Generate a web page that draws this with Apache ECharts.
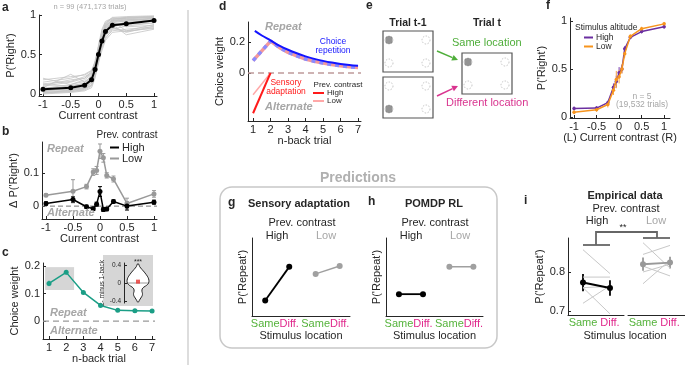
<!DOCTYPE html>
<html>
<head>
<meta charset="utf-8">
<script src="https://cdn.jsdelivr.net/npm/echarts@6/dist/echarts.min.js"></script>
<style>html,body{margin:0;padding:0;background:#fff}#chart{width:685px;height:370px}</style>
</head>
<body>
<div id="chart"></div>
<script>
// ---------- data ----------
const contrasts = [-1, -0.5, -0.25, -0.125, -0.0625, 0, 0.0625, 0.125, 0.25, 0.5, 1];

// a: psychometric curves
const aMean = [0.06, 0.08, 0.11, 0.18, 0.31, 0.50, 0.67, 0.79, 0.87, 0.89, 0.93];
const aSubjects = [
  [0.02, 0.03, 0.06, 0.12, 0.28, 0.50, 0.72, 0.86, 0.94, 0.97, 0.98],
  [0.10, 0.15, 0.20, 0.28, 0.38, 0.52, 0.66, 0.78, 0.86, 0.88, 0.90],
  [0.05, 0.08, 0.10, 0.20, 0.35, 0.55, 0.70, 0.82, 0.90, 0.93, 0.95],
  [0.15, 0.20, 0.25, 0.30, 0.40, 0.50, 0.60, 0.72, 0.80, 0.82, 0.85],
  [0.00, 0.02, 0.04, 0.08, 0.20, 0.42, 0.75, 0.90, 0.97, 0.98, 0.99],
  [0.08, 0.25, 0.15, 0.22, 0.30, 0.45, 0.62, 0.80, 0.88, 0.75, 0.82],
  [0.20, 0.12, 0.18, 0.25, 0.33, 0.47, 0.60, 0.75, 0.92, 0.80, 0.88],
  [0.03, 0.05, 0.08, 0.15, 0.25, 0.60, 0.80, 0.90, 0.95, 0.96, 0.97],
  [0.06, 0.10, 0.12, 0.18, 0.30, 0.48, 0.64, 0.76, 0.84, 0.92, 0.96],
  [0.12, 0.10, 0.14, 0.24, 0.40, 0.58, 0.74, 0.86, 0.93, 0.95, 0.92],
  [0.01, 0.03, 0.05, 0.10, 0.22, 0.38, 0.68, 0.88, 0.96, 0.97, 0.98],
  [0.09, 0.06, 0.09, 0.16, 0.34, 0.52, 0.70, 0.83, 0.89, 0.90, 0.94],
  [0.04, 0.07, 0.11, 0.19, 0.29, 0.44, 0.58, 0.70, 0.82, 0.86, 0.90],
  [0.11, 0.18, 0.20, 0.26, 0.36, 0.56, 0.76, 0.84, 0.90, 0.85, 0.87],
  [0.02, 0.04, 0.07, 0.14, 0.32, 0.62, 0.82, 0.92, 0.96, 0.95, 0.97],
  [0.07, 0.12, 0.16, 0.22, 0.27, 0.40, 0.55, 0.68, 0.78, 0.80, 0.83],
  [0.03, 0.09, 0.13, 0.21, 0.37, 0.53, 0.69, 0.81, 0.91, 0.94, 0.96],
  [0.13, 0.16, 0.22, 0.27, 0.42, 0.60, 0.72, 0.80, 0.85, 0.78, 0.86],
  [0.05, 0.06, 0.09, 0.17, 0.26, 0.46, 0.66, 0.85, 0.93, 0.96, 0.98],
  [0.01, 0.05, 0.07, 0.11, 0.24, 0.49, 0.71, 0.84, 0.92, 0.94, 0.95],
  [0.18, 0.22, 0.24, 0.29, 0.39, 0.51, 0.63, 0.74, 0.83, 0.79, 0.84],
  [0.04, 0.11, 0.12, 0.23, 0.31, 0.47, 0.73, 0.87, 0.94, 0.91, 0.93]
];

// b: history effect split by previous contrast
const bHigh = [0.008, 0.020, -0.002, -0.008, 0.006, 0.044, -0.010, -0.009, 0.014, 0.000, 0.012];
const bHighErr = [0.005, 0.008, 0.005, 0.005, 0.006, 0.015, 0.006, 0.005, 0.005, 0.012, 0.006];
const bLow = [0.033, 0.045, 0.059, 0.103, 0.108, 0.166, 0.146, 0.093, 0.082, 0.008, 0.037];
const bLowErr = [0.004, 0.035, 0.007, 0.010, 0.012, 0.022, 0.013, 0.008, 0.009, 0.016, 0.010];

// c: choice weights per n-back trial
const nBack = [1, 2, 3, 4, 5, 6, 7];
const cWeight = [0.137, 0.177, 0.104, 0.057, 0.039, 0.038, 0.037];
const cErr = [0.010, 0.008, 0.007, 0.004, 0.003, 0.003, 0.003];
// c inset: violin of 2- minus 1-back
const violinY = [0.42, 0.36, 0.30, 0.24, 0.18, 0.12, 0.06, 0.00, -0.05, -0.09, -0.13, -0.18, -0.23, -0.28, -0.33, -0.38, -0.42];
const violinW = [0.04, 0.12, 0.28, 0.45, 0.60, 0.72, 0.78, 0.76, 0.62, 0.42, 0.30, 0.28, 0.32, 0.30, 0.20, 0.10, 0.03];
const violinMean = 0.03;

// d: model predictions
const dRepX = [1.1, 1.5, 2, 2.5, 3, 3.5, 4, 4.5, 5, 5.5, 6, 6.5, 7];
const dRep = [0.272, 0.242, 0.21, 0.177, 0.15, 0.127, 0.107, 0.091, 0.078, 0.067, 0.058, 0.051, 0.046];
const dSumX = [1, 2, 2.5, 3, 3.5, 4, 4.5, 5, 5.5, 6, 6.5, 7];
const dSum = [0.08, 0.206, 0.165, 0.133, 0.11, 0.09, 0.076, 0.064, 0.054, 0.046, 0.04, 0.036];
const dAdaptX = [1, 2];
const dAdaptHigh = [-0.26, 0];
const dAdaptLow = [-0.14, 0];

// f: psychometric curves by stimulus altitude
const fHigh = [0.09, 0.093, 0.15, 0.31, 0.37, 0.46, 0.50, 0.71, 0.83, 0.89, 0.94];
const fHighErr = [0.02, 0.02, 0.02, 0.04, 0.06, 0.06, 0.04, 0.03, 0.02, 0.02, 0.02];
const fLow = [0.05, 0.076, 0.13, 0.28, 0.39, 0.42, 0.50, 0.66, 0.84, 0.92, 0.97];
const fLowErr = [0.02, 0.02, 0.03, 0.05, 0.09, 0.07, 0.05, 0.04, 0.02, 0.02, 0.02];

// g, h: predictions (arbitrary units)
const locHighX = [1, 2];
const locLowX = [3.1, 4.1];
const gHigh = [0.2, 0.63];
const gLow = [0.54, 0.64];
const hHigh = [0.28, 0.28];
const hLow = [0.63, 0.63];

// i: empirical data, one pair per mouse
const iX = [1, 2];
const iHighSubj = [[0.857, 0.796], [0.787, 0.787], [0.760, 0.763], [0.720, 0.765], [0.760, 0.693]];
const iLowSubj = [[0.875, 0.810], [0.845, 0.868], [0.815, 0.790], [0.770, 0.830], [0.800, 0.820]];
const iHighMean = [0.773, 0.759];
const iHighErr = [0.022, 0.02];
const iLowMean = [0.82, 0.824];
const iLowErr = [0.017, 0.015];

// ---------- style ----------
const FONT = '"Liberation Sans", Arial, sans-serif';
const AX = '#262626';
const GRAYTXT = '#a6a6a6';
const GREEN = '#55b33b';
const MAGENTA = '#e0288c';
const TEAL = '#1b9e86';

const xy = (xs, ys) => xs.map((x, i) => [x, ys[i]]);

function axis(gi, min, max, ticks, extra) {
  const fs = (extra && extra.fs) || 11;
  const a = {
    type: 'value', gridIndex: gi, min: min, max: max,
    axisLine: { show: true, onZero: false, lineStyle: { color: AX, width: 1 } },
    axisTick: { show: ticks.length > 0, inside: true, length: 3, customValues: ticks, lineStyle: { color: AX } },
    axisLabel: {
      show: ticks.length > 0, customValues: ticks, color: AX, fontSize: fs, fontFamily: FONT, margin: 3,
      showMinLabel: true, showMaxLabel: true, hideOverlap: false
    },
    splitLine: { show: false },
    nameLocation: 'middle',
    nameTextStyle: { color: AX, fontSize: (extra && extra.nfs) || 11, fontFamily: FONT }
  };
  if (extra) { for (const k in extra) if (k !== 'fs' && k !== 'nfs') a[k] = extra[k]; }
  return a;
}
function hidden(gi, min, max) {
  return { type: 'value', gridIndex: gi, min: min, max: max, show: false, splitLine: { show: false } };
}
const locLabel = {
  formatter: v => (Math.abs(v - 1) < 0.01 || Math.abs(v - 3.1) < 0.01) ? '{s|Same}' : '{d|Diff.}',
  rich: { s: { color: GREEN, fontSize: 11, fontFamily: FONT }, d: { color: MAGENTA, fontSize: 11, fontFamily: FONT } }
};
function locAxis(gi, min, max, ticks, name) {
  const a = axis(gi, min, max, ticks, name ? { name: name, nameGap: 14 } : {});
  Object.assign(a.axisLabel, locLabel, { margin: 2 });
  a.axisTick.show = false;
  return a;
}

function line(name, gi, data, color, o) {
  o = o || {};
  return {
    type: 'line', name: name, xAxisIndex: gi, yAxisIndex: gi, data: data, silent: true,
    symbol: o.symbol || 'none', symbolSize: o.size || 5, showSymbol: !!o.symbol,
    smooth: o.smooth || false, z: o.z || 3, clip: false,
    lineStyle: { color: color, width: o.width || 1.5, type: o.dash || 'solid', cap: 'butt' },
    itemStyle: { color: o.fill || color, borderWidth: 0 }
  };
}
function errBars(gi, xs, ys, es, color, w, cap) {
  return {
    type: 'custom', xAxisIndex: gi, yAxisIndex: gi, silent: true, z: 2,
    data: xs.map((x, i) => [x, ys[i] - es[i], ys[i] + es[i]]),
    renderItem: (p, api) => {
      const lo = api.coord([api.value(0), api.value(1)]);
      const hi = api.coord([api.value(0), api.value(2)]);
      const st = { stroke: color, lineWidth: w };
      const kids = [{ type: 'line', shape: { x1: lo[0], y1: lo[1], x2: hi[0], y2: hi[1] }, style: st }];
      if (cap) {
        kids.push({ type: 'line', shape: { x1: lo[0] - cap, y1: lo[1], x2: lo[0] + cap, y2: lo[1] }, style: st });
        kids.push({ type: 'line', shape: { x1: hi[0] - cap, y1: hi[1], x2: hi[0] + cap, y2: hi[1] }, style: st });
      }
      return { type: 'group', children: kids };
    }
  };
}

// ---------- grids ----------
const grids = [
  { left: 39, top: 15, width: 118, height: 81 },   // 0 a
  { left: 42, top: 142, width: 115, height: 77 },  // 1 b
  { left: 43, top: 263, width: 112, height: 76 },  // 2 c
  { left: 103, top: 255, width: 50, height: 51, show: true, backgroundColor: '#d6d6d6', borderWidth: 0 }, // 3 inset box
  { left: 124, top: 263, width: 28, height: 40 },  // 4 inset
  { left: 248, top: 22, width: 113, height: 99 },  // 5 d
  { left: 570, top: 18, width: 100, height: 100 }, // 6 f
  { left: 252, top: 238, width: 98, height: 78 },  // 7 g
  { left: 386, top: 238, width: 97, height: 78 },  // 8 h
  { left: 568, top: 238, width: 56, height: 77 },  // 9 i high
  { left: 628, top: 238, width: 57, height: 77 }   // 10 i low
];

const cTicks = [-1, -0.5, 0, 0.5, 1];
const xAxes = [
  axis(0, -1.072, 1.054, cTicks, { name: 'Current contrast', nameGap: 10 }),
  axis(1, -1.074, 1.056, cTicks, { name: 'Current contrast', nameGap: 12 }),
  axis(2, 0.65, 7.17, nBack, { name: 'n-back trial', nameGap: 12 }),
  hidden(3, 0, 1),
  hidden(4, -1, 1),
  axis(5, 0.71, 7.17, nBack, { name: 'n-back trial', nameGap: 10 }),
  axis(6, -1.09, 1.13, cTicks, { name: '(L) Current contrast (R)', nameGap: 13 }),
  locAxis(7, 0.45, 4.53, [1, 2, 3.1, 4.1], 'Stimulus location'),
  locAxis(8, 0.46, 4.5, [1, 2, 3.1, 4.1], 'Stimulus location'),
  locAxis(9, 0.444, 2.52, iX),
  locAxis(10, 0.444, 2.555, iX)
];
const yAxes = [
  axis(0, -0.025, 1, [0, 0.5, 1], { name: "P('Right')", nameGap: 16 }),
  axis(1, -0.039, 0.194, [0, 0.1], { name: "Δ P('Right')", nameGap: 19 }),
  axis(2, -0.065, 0.211, [0, 0.1, 0.2], { name: 'Choice weight', nameGap: 20 }),
  hidden(3, 0, 1),
  axis(4, -0.44, 0.44, [-0.4, 0, 0.4], { fs: 6.5, nfs: 6.5, name: '2- minus 1-back', nameGap: 12 }),
  axis(5, -0.31, 0.329, [0, 0.2], { name: 'Choice weight', nameGap: 15 }),
  axis(6, -0.01, 1.031, [0, 0.5, 1], { name: "P('Right')", nameGap: 11 }),
  axis(7, 0, 1, [], { name: "P('Repeat')", nameGap: 4 }),
  axis(8, 0, 1, [], { name: "P('Repeat')", nameGap: 4 }),
  axis(9, 0.69, 0.887, [0.7, 0.8], { name: "P('Repeat')", nameGap: 20 }),
  hidden(10, 0.69, 0.887)
];

// ---------- series ----------
const series = [];
// a
aSubjects.forEach((s, k) => series.push(line('a' + k, 0, xy(contrasts, s), '#c4c4c4', { width: 0.8, z: 2 })));
series.push(line('aMean', 0, xy(contrasts, aMean), '#000', { symbol: 'circle', size: 5, width: 2, z: 5 }));
// b
series.push(line('zb', 1, [[-1.074, 0], [1.056, 0]], '#777', { width: 1, dash: [5, 3], z: 1 }));
series.push(errBars(1, contrasts, bLow, bLowErr, '#999', 1, 2));
series.push(line('Low_b', 1, xy(contrasts, bLow), '#999', { symbol: 'circle', size: 5, width: 1.5 }));
series.push(errBars(1, contrasts, bHigh, bHighErr, '#000', 1, 2));
series.push(line('High_b', 1, xy(contrasts, bHigh), '#000', { symbol: 'circle', size: 5, width: 1.5, z: 4 }));
// c
series.push(line('zc', 2, [[0.65, 0], [7.17, 0]], '#999', { width: 1.2, dash: [6, 4], z: 1 }));
series.push(errBars(2, nBack, cWeight, cErr, TEAL, 1, 0));
const cSeries = line('cW', 2, xy(nBack, cWeight), TEAL, { symbol: 'circle', size: 5, width: 1.5 });
cSeries.markArea = { silent: true, itemStyle: { color: '#d6d6d6' }, data: [[{ xAxis: 0.77, yAxis: 0.196 }, { xAxis: 2.46, yAxis: 0.113 }]] };
series.push(cSeries);
// c inset violin
series.push({
  type: 'custom', xAxisIndex: 4, yAxisIndex: 4, silent: true, z: 3, data: [[0]],
  renderItem: (p, api) => {
    const right = violinY.map((y, i) => api.coord([violinW[i], y]));
    const left = violinY.map((y, i) => api.coord([-violinW[i], y])).reverse();
    return { type: 'polygon', shape: { points: right.concat(left), smooth: 0.3 }, style: { fill: '#fff', stroke: AX, lineWidth: 1 } };
  }
});
series.push(line('vmed', 4, [[-0.7, 0], [0.7, 0]], '#9a9a9a', { width: 1, z: 4 }));
series.push({ type: 'scatter', xAxisIndex: 4, yAxisIndex: 4, data: [[0, violinMean]], symbol: 'rect', symbolSize: 4, itemStyle: { color: '#e8322e' }, z: 5, silent: true });
// d
series.push(line('zd', 5, [[0.71, 0], [7.17, 0]], '#bf9a9a', { width: 1.5, dash: [6, 4], z: 1 }));
series.push(line('sumR', 5, xy(dSumX, dSum), '#f49a9a', { width: 3.5, z: 3 }));
series.push(line('sumB', 5, xy(dSumX, dSum), '#8a8aff', { width: 3.5, dash: [4, 4], z: 4 }));
series.push(line('rep', 5, xy(dRepX, dRep), '#1414ff', { width: 2, smooth: 0.4, z: 5 }));
series.push(line('Low_d', 5, xy(dAdaptX, dAdaptLow), '#ffa8a8', { width: 1.5, z: 3 }));
series.push(line('High_d', 5, xy(dAdaptX, dAdaptHigh), '#ff1a1a', { width: 2, z: 4 }));
// f
series.push(errBars(6, contrasts, fHigh, fHighErr, '#7a3fb0', 1, 0));
series.push(line('High_f', 6, xy(contrasts, fHigh), '#6b2fa0', { symbol: 'circle', size: 3.5, width: 1.5 }));
series.push(errBars(6, contrasts, fLow, fLowErr, '#f7a040', 1, 0));
series.push(line('Low_f', 6, xy(contrasts, fLow), '#f7941d', { symbol: 'circle', size: 3.5, width: 1.5, z: 4 }));
// g
series.push(line('gH', 7, xy(locHighX, gHigh), '#000', { symbol: 'circle', size: 6, width: 1.8 }));
series.push(line('gL', 7, xy(locLowX, gLow), '#a0a0a0', { symbol: 'circle', size: 6, width: 1.5 }));
// h
series.push(line('hH', 8, xy(locHighX, hHigh), '#000', { symbol: 'circle', size: 6, width: 1.8 }));
series.push(line('hL', 8, xy(locLowX, hLow), '#a0a0a0', { symbol: 'circle', size: 6, width: 1.5 }));
// i
iHighSubj.forEach((s, k) => series.push(line('iH' + k, 9, xy(iX, s), '#c8c8c8', { width: 1, z: 2 })));
iLowSubj.forEach((s, k) => series.push(line('iL' + k, 10, xy(iX, s), '#c8c8c8', { width: 1, z: 2 })));
series.push(errBars(9, iX, iHighMean, iHighErr, '#000', 1.8, 0));
series.push(line('iHm', 9, xy(iX, iHighMean), '#000', { symbol: 'circle', size: 6, width: 2, z: 5 }));
series.push(errBars(10, iX, iLowMean, iLowErr, '#999', 1.8, 0));
series.push(line('iLm', 10, xy(iX, iLowMean), '#999', { symbol: 'circle', size: 6, width: 2, z: 5 }));

// ---------- legends ----------
function legend(names, left, top, fs, iw) {
  return {
    data: names, left: left, top: top, orient: 'vertical', icon: 'rect', itemWidth: iw, itemHeight: 2,
    itemGap: 0, padding: 0, selectedMode: false, formatter: n => n.split('_')[0],
    textStyle: { color: AX, fontSize: fs, fontFamily: FONT, padding: [0, 0, 0, -2] }
  };
}

// ---------- graphic: labels, schematic, frames ----------
function T(text, x, y, o) {
  o = o || {};
  return {
    type: 'text', x: x, y: y, silent: true, z: 50, rotation: o.rot || 0,
    style: {
      text: text, fill: o.fill || AX, fontSize: o.size || 11, fontFamily: FONT,
      fontWeight: o.bold ? 'bold' : 'normal', fontStyle: o.italic ? 'italic' : 'normal',
      align: o.align || 'center', verticalAlign: 'middle'
    }
  };
}
function grating(cx, cy) {
  const st = { stroke: '#4d4d4d', lineWidth: 0.9 };
  return [
    { type: 'circle', shape: { cx: cx, cy: cy, r: 4 }, style: { fill: '#cfcfcf', stroke: '#9a9a9a', lineWidth: 0.5 } },
    { type: 'line', shape: { x1: cx - 2, y1: cy - 3.2, x2: cx - 2, y2: cy + 3.2 }, style: st },
    { type: 'line', shape: { x1: cx, y1: cy - 3.8, x2: cx, y2: cy + 3.8 }, style: st },
    { type: 'line', shape: { x1: cx + 2, y1: cy - 3.2, x2: cx + 2, y2: cy + 3.2 }, style: st }
  ];
}
function frame(x, y, gIdx) {
  const els = [{ type: 'rect', shape: { x: x, y: y, width: 50, height: 41 }, style: { fill: '#fff', stroke: '#555', lineWidth: 1.2 } }];
  [[6, 9], [43, 9], [6, 32], [43, 32]].forEach((s, k) => {
    if (k === gIdx) els.push.apply(els, grating(x + s[0], y + s[1]));
    else els.push({ type: 'circle', shape: { cx: x + s[0], cy: y + s[1], r: 4 }, style: { fill: 'none', stroke: '#b5b5b5', lineWidth: 0.8, lineDash: [1.5, 1.5] } });
  });
  return els;
}
function arrow(x1, y1, x2, y2, color) {
  const a = Math.atan2(y2 - y1, x2 - x1), L = 6, W = 3;
  const c = Math.cos(a), s = Math.sin(a);
  const bx = x2 - L * c, by = y2 - L * s;
  return [
    { type: 'line', shape: { x1: x1, y1: y1, x2: bx, y2: by }, style: { stroke: color, lineWidth: 1.5 } },
    { type: 'polygon', shape: { points: [[x2, y2], [bx + W * s, by - W * c], [bx - W * s, by + W * c]] }, style: { fill: color } }
  ];
}
function seg(points, color, w) {
  return { type: 'polyline', shape: { points: points }, style: { stroke: color, lineWidth: w, fill: 'none' }, z: 50, silent: true };
}

const graphic = [
  // dividers and frames
  { type: 'line', shape: { x1: 188, y1: 10, x2: 188, y2: 365 }, style: { stroke: '#d2d2d2', lineWidth: 1.5 }, silent: true },
  { type: 'rect', shape: { x: 220, y: 187, width: 277, height: 161, r: 12 }, style: { fill: 'none', stroke: '#c8c8c8', lineWidth: 1.5 }, silent: true },
  T('Predictions', 358, 178, { bold: true, size: 14, fill: '#b0b0b0' }),
  // panel letters
  T('a', 2, 8, { bold: true, size: 12, align: 'left' }),
  T('b', 2, 132, { bold: true, size: 12, align: 'left' }),
  T('c', 2, 253, { bold: true, size: 12, align: 'left' }),
  T('d', 219, 7, { bold: true, size: 12, align: 'left' }),
  T('e', 366, 6, { bold: true, size: 12, align: 'left' }),
  T('f', 546, 6, { bold: true, size: 12, align: 'left' }),
  T('g', 228, 203, { bold: true, size: 12, align: 'left' }),
  T('h', 368, 202, { bold: true, size: 12, align: 'left' }),
  T('i', 524, 201, { bold: true, size: 12, align: 'left' }),
  // a
  T('n = 99 (471,173 trials)', 90, 7, { size: 7.5, fill: GRAYTXT }),
  // b
  T('Prev. contrast', 127, 135, { size: 10 }),
  T('Repeat', 47, 149, { bold: true, italic: true, fill: GRAYTXT, align: 'left' }),
  T('Alternate', 47, 213, { bold: true, italic: true, fill: GRAYTXT, align: 'left' }),
  // c
  T('Repeat', 50, 313, { bold: true, italic: true, fill: GRAYTXT, align: 'left' }),
  T('Alternate', 50, 331, { bold: true, italic: true, fill: GRAYTXT, align: 'left' }),
  T('***', 138, 262, { size: 7 }),
  // d
  T('Repeat', 265, 27, { bold: true, italic: true, fill: GRAYTXT, align: 'left' }),
  T('Alternate', 265, 107, { bold: true, italic: true, fill: GRAYTXT, align: 'left' }),
  T('Choice', 333, 42, { size: 8.5, fill: '#1414ff' }),
  T('repetition', 333, 51, { size: 8.5, fill: '#1414ff' }),
  T('Sensory', 286, 83, { size: 8.5, fill: '#ff1a1a' }),
  T('adaptation', 286, 92, { size: 8.5, fill: '#ff1a1a' }),
  T('Prev. contrast', 338, 85, { size: 8 }),
  // e
  T('Trial t-1', 408, 23, { bold: true, size: 10.5 }),
  T('Trial t', 487, 23, { bold: true, size: 10.5 }),
  T('Same location', 452, 43, { size: 11, fill: '#4fae3a', align: 'left' }),
  T('Different location', 446, 103, { size: 11, fill: '#d9348f', align: 'left' }),
  // f
  T('Stimulus altitude', 575, 28, { size: 8.5, align: 'left' }),
  T('n = 5', 642, 97, { size: 8.5, fill: GRAYTXT }),
  T('(19,532 trials)', 642, 105, { size: 8.5, fill: GRAYTXT }),
  // g
  T('Sensory adaptation', 299, 204, { bold: true, size: 11 }),
  T('Prev. contrast', 302, 223),
  T('High', 277, 236),
  T('Low', 326, 236, { fill: GRAYTXT }),
  // h
  T('POMDP RL', 434, 204, { bold: true, size: 11 }),
  T('Prev. contrast', 435, 223),
  T('High', 411, 236),
  T('Low', 460, 236, { fill: GRAYTXT }),
  // i
  T('Empirical data', 625, 196, { bold: true, size: 11 }),
  T('Prev. contrast', 626, 209),
  T('High', 597, 221),
  T('Low', 656, 221, { fill: GRAYTXT }),
  T('**', 623, 228, { size: 9 }),
  T('Stimulus location', 625, 336),
  seg([[583, 245], [610, 245]], '#666', 1.8),
  seg([[643, 238], [670, 238]], '#666', 1.8),
  seg([[596, 245], [596, 232], [657, 232], [657, 238]], '#666', 1.8)
];
// e schematic
[].concat(frame(383, 31, 0), frame(383, 77, 2), frame(462, 53, 0),
  arrow(437, 51, 458, 60, '#4fae3a'), arrow(437, 96, 458, 86, '#d9348f'))
  .forEach(el => { el.silent = true; el.z = 40; graphic.push(el); });

const chart = echarts.init(document.getElementById('chart'), null, { renderer: 'canvas' });
chart.setOption({
  animation: false,
  backgroundColor: '#fff',
  textStyle: { fontFamily: FONT },
  grid: grids,
  xAxis: xAxes,
  yAxis: yAxes,
  legend: [
    legend(['High_b', 'Low_b'], 110, 142, 11, 9),
    legend(['High_d', 'Low_d'], 313, 89, 8, 11),
    legend(['High_f', 'Low_f'], 584, 33, 8.5, 9)
  ],
  series: series,
  graphic: graphic
});
</script>
</body>
</html>
